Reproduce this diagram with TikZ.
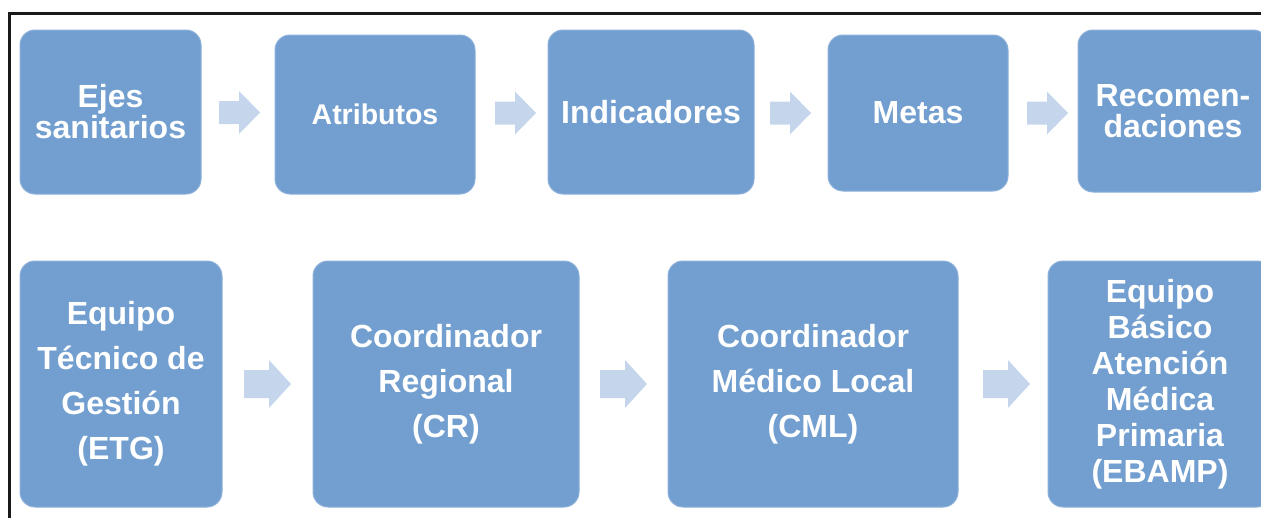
\documentclass[tikz,border=0pt]{standalone}
\usepackage{fontspec}
\setmainfont{Liberation Sans}
\definecolor{boxfill}{HTML}{729FCF}
\definecolor{boxline}{HTML}{8DB1DA}
\definecolor{arrfill}{HTML}{C5D6EC}
\definecolor{framecol}{HTML}{1A1A1A}
\tikzset{
  box/.style={draw=boxline, line width=1pt, fill=boxfill, rounded corners=15pt,
    text=white, align=center, inner sep=0pt, font=\bfseries},
  toptxt/.style={font=\fontsize{32}{31}\selectfont\bfseries},
  bottxt/.style={font=\fontsize{32}{45}\selectfont\bfseries},
  ebtxt/.style={font=\fontsize{32}{36}\selectfont\bfseries},
  blockarrow/.style={fill=arrfill, draw=none},
}
% block arrow: name, centre x, centre y, length, full width, shaft width, head length
\newcommand\blkarrow[7]{%
  \coordinate (#1) at (#2,#3);
  \fill[blockarrow] ([shift={(-#4/2,-#6/2)}]#1) -- ([shift={(#4/2-#7,-#6/2)}]#1)
    -- ([shift={(#4/2-#7,-#5/2)}]#1) -- ([shift={(#4/2,0)}]#1)
    -- ([shift={(#4/2-#7,#5/2)}]#1) -- ([shift={(#4/2-#7,#6/2)}]#1)
    -- ([shift={(-#4/2,#6/2)}]#1) -- cycle;}
\begin{document}
\begin{tikzpicture}[x=1pt,y=-1pt]
\useasboundingbox (0,0) rectangle (1261,517);
\clip (0,0) rectangle (1261,517);
% frame
\draw[framecol, line width=3pt] (9.5,520) -- (9.5,13) -- (1265,13);
% top row boxes
\node[box, toptxt, minimum width=181pt, minimum height=164pt] (ejes) at (110.5,112) {Ejes\\sanitarios};
\node[box, font=\fontsize{28.5}{31}\selectfont\bfseries, minimum width=200pt, minimum height=159pt] (atr) at (375,114.5) {Atributos};
\node[box, toptxt, minimum width=206pt, minimum height=164pt] (ind) at (651,112) {Indicadores};
\node[box, toptxt, minimum width=180pt, minimum height=156pt] (met) at (918,113) {Metas};
\node[box, toptxt, minimum width=190pt, minimum height=162pt] (rec) at (1173,111) {Recomen-\\daciones};
% top arrows
\blkarrow{a1}{239.5}{112.5}{41}{43}{23}{21}
\blkarrow{a2}{515.5}{113}{41}{43}{23}{21}
\blkarrow{a3}{790.5}{113}{41}{43}{23}{21}
\blkarrow{a4}{1047.5}{113}{41}{43}{23}{21}
% bottom row boxes
\node[box, bottxt, minimum width=202pt, minimum height=246pt] (etg) at (121,384) {Equipo\\Técnico de\\Gestión\\(ETG)};
\node[box, bottxt, minimum width=266pt, minimum height=246pt] (cr) at (446,384) {Coordinador\\Regional\\(CR)};
\node[box, bottxt, minimum width=290pt, minimum height=246pt] (cml) at (813,384) {Coordinador\\Médico Local\\(CML)};
\node[box, ebtxt, minimum width=224pt, minimum height=246pt] (eb) at (1160,384) {Equipo\\Básico\\Atención\\Médica\\Primaria\\(EBAMP)};
% bottom arrows
\blkarrow{b1}{267.5}{384}{47}{48}{28}{22}
\blkarrow{b2}{623.5}{384}{47}{48}{28}{22}
\blkarrow{b3}{1006.5}{384}{47}{48}{28}{22}
\end{tikzpicture}
\end{document}
